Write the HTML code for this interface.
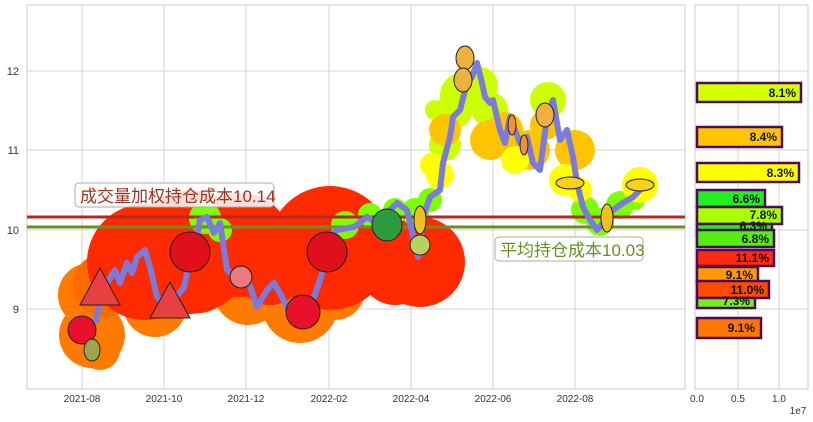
<!DOCTYPE html>
<html><head><meta charset="utf-8"><style>
html,body{margin:0;padding:0;background:#fff;}
svg{display:block;font-family:"Liberation Sans","Noto Sans CJK SC",sans-serif;}
</style></head><body>
<svg width="813" height="422" viewBox="0 0 813 422" xmlns="http://www.w3.org/2000/svg">
<defs>
<clipPath id="c1"><rect x="27" y="5" width="658" height="384"/></clipPath>
</defs>
<rect x="27" y="5" width="658" height="384" fill="#fff" stroke="#ccc"/>
<g stroke="#d3d3d3" stroke-width="1">
<line x1="82" y1="5" x2="82" y2="389"/><line x1="164" y1="5" x2="164" y2="389"/>
<line x1="246" y1="5" x2="246" y2="389"/><line x1="329" y1="5" x2="329" y2="389"/>
<line x1="411" y1="5" x2="411" y2="389"/><line x1="493" y1="5" x2="493" y2="389"/>
<line x1="575" y1="5" x2="575" y2="389"/>
<line x1="27" y1="71" x2="685" y2="71"/><line x1="27" y1="150" x2="685" y2="150"/>
<line x1="27" y1="230" x2="685" y2="230"/><line x1="27" y1="309" x2="685" y2="309"/>
</g>
<g clip-path="url(#c1)">
<g fill="#ff7b00">
<circle cx="92" cy="335" r="33"/><circle cx="90" cy="295" r="32"/><circle cx="155" cy="305" r="32"/>
<circle cx="248" cy="290" r="35"/><circle cx="300" cy="305" r="38"/><circle cx="335" cy="290" r="30"/>
<circle cx="100" cy="350" r="20"/>
</g>
<g fill="#ff6a00"><circle cx="105" cy="285" r="32"/><circle cx="200" cy="285" r="28"/></g>
<g fill="#ff2a00">
<circle cx="145" cy="262" r="58"/><circle cx="190" cy="252" r="62"/><circle cx="240" cy="245" r="52"/>
<circle cx="270" cy="270" r="35"/><circle cx="330" cy="248" r="62"/><circle cx="360" cy="250" r="42"/>
<circle cx="420" cy="262" r="45"/><circle cx="395" cy="270" r="35"/>
</g>
<g fill="#7dff00">
<circle cx="205" cy="218" r="16"/><circle cx="220" cy="230" r="12"/><circle cx="345" cy="225" r="14"/>
<circle cx="370" cy="215" r="12"/><circle cx="395" cy="210" r="12"/><circle cx="415" cy="212" r="14"/>
<circle cx="430" cy="200" r="12"/><circle cx="585" cy="210" r="14"/><circle cx="600" cy="222" r="14"/>
<circle cx="620" cy="205" r="14"/><circle cx="635" cy="200" r="10"/>
</g>
<g fill="#ccff00">
<circle cx="445" cy="145" r="16"/><circle cx="462" cy="95" r="22"/><circle cx="480" cy="85" r="18"/>
<circle cx="455" cy="110" r="18"/><circle cx="490" cy="110" r="18"/><circle cx="548" cy="100" r="18"/>
<circle cx="435" cy="110" r="10"/>
</g>
<g fill="#ffc400">
<circle cx="445" cy="130" r="16"/><circle cx="490" cy="140" r="20"/><circle cx="505" cy="130" r="18"/>
<circle cx="530" cy="150" r="20"/><circle cx="575" cy="150" r="20"/><circle cx="545" cy="125" r="15"/>
</g>
<g fill="#ffff00">
<circle cx="440" cy="175" r="14"/><circle cx="432" cy="165" r="12"/><circle cx="565" cy="180" r="16"/>
<circle cx="580" cy="190" r="12"/><circle cx="640" cy="185" r="18"/><circle cx="515" cy="160" r="14"/>
</g>
</g>
<line x1="27" y1="217" x2="685" y2="217" stroke="#b22a22" stroke-width="3"/>
<line x1="27" y1="227" x2="685" y2="227" stroke="#6b8e23" stroke-width="3"/>
<polyline fill="none" stroke="#7b7bdc" stroke-width="6" stroke-linejoin="round" points="95,323 99,307 107,283 115,270 120,283 127,263 132,273 137,257 145,250 150,267 157,297 164,303 174,300 184,287 187,273 194,253 200,220 207,217 214,233 220,223 227,270 240,280 249,283 257,307 267,290 274,283 280,293 290,313 300,307 314,297 320,280 324,267 327,240 337,230 354,227 367,217 377,223 387,213 397,203 407,210 418,257 423,217 430,197 440,190 443,163 450,137 453,117 460,110 467,83 472,77 477,63 482,83 485,97 490,103 493,100 500,130 505,143 510,117 520,143 527,137 533,163 540,170 547,117 553,100 560,140 567,130 573,157 577,183 583,207 590,220 597,230 603,223 613,210 623,203 633,197 647,183"/>
<g stroke="#222" stroke-width="1">
<circle cx="82" cy="330" r="14" fill="#e8102a"/><ellipse cx="92" cy="350" rx="8" ry="11" fill="#9aa84a"/>
<polygon points="100,268 80,305 120,305" fill="#e84040"/><polygon points="170,282 150,318 190,318" fill="#e84040"/>
<circle cx="190" cy="252" r="20" fill="#e0101a"/><circle cx="241" cy="277" r="11" fill="#e87a80"/>
<circle cx="303" cy="312" r="17" fill="#e8102a"/><circle cx="327" cy="252" r="20" fill="#e0101a"/>
<ellipse cx="387" cy="225" rx="15" ry="16" fill="#2e9a40"/><circle cx="420" cy="245" r="10" fill="#b8d060"/>
<ellipse cx="420" cy="220" rx="6" ry="14" fill="#f0c020"/>
<ellipse cx="465" cy="58" rx="9" ry="12" fill="#f0b040"/><ellipse cx="463" cy="80" rx="9" ry="12" fill="#f0b040"/>
<ellipse cx="545" cy="115" rx="9" ry="12" fill="#f0b040"/><ellipse cx="512" cy="125" rx="4" ry="10" fill="#f09030"/>
<ellipse cx="524" cy="145" rx="4" ry="10" fill="#f09030"/>
<ellipse cx="570" cy="183" rx="14" ry="6" fill="#f8d020"/><ellipse cx="640" cy="185" rx="14" ry="6" fill="#f8d020"/>
<ellipse cx="607" cy="218" rx="6" ry="14" fill="#f0c020"/>
</g>
<rect x="75" y="183" width="199" height="24" rx="4" fill="#fff" fill-opacity="0.85" stroke="#aaa"/>
<text x="80" y="202" font-size="17" fill="#9b3322">成交量加权持仓成本10.14</text>
<rect x="495" y="237" width="148" height="24" rx="4" fill="#fff" fill-opacity="0.85" stroke="#aaa"/>
<text x="500" y="256" font-size="17" fill="#6b8e23">平均持仓成本10.03</text>
<g font-size="11" fill="#333" text-anchor="end">
<text x="19" y="75">12</text><text x="19" y="154">11</text><text x="19" y="234">10</text><text x="19" y="313">9</text>
</g>
<g font-size="10" fill="#333" text-anchor="middle">
<text x="82" y="402">2021-08</text><text x="164" y="402">2021-10</text><text x="246" y="402">2021-12</text>
<text x="329" y="402">2022-02</text><text x="411" y="402">2022-04</text><text x="493" y="402">2022-06</text>
<text x="575" y="402">2022-08</text>
<text x="697" y="402">0.0</text><text x="738" y="402">0.5</text><text x="779" y="402">1.0</text>
<text x="798" y="414">1e7</text>
</g>
<rect x="695" y="5" width="113" height="384" fill="#fff" stroke="#ccc"/>
<g stroke="#d3d3d3"><line x1="738" y1="5" x2="738" y2="389"/><line x1="779" y1="5" x2="779" y2="389"/>
<line x1="695" y1="71" x2="808" y2="71"/><line x1="695" y1="150" x2="808" y2="150"/>
<line x1="695" y1="230" x2="808" y2="230"/><line x1="695" y1="309" x2="808" y2="309"/></g>
<g stroke="#4b0a5a" stroke-width="2.5">
<rect x="697" y="83" width="104" height="19" fill="#d4ff00"/>
<rect x="697" y="127" width="85" height="20" fill="#ffc400"/>
<rect x="697" y="163" width="102" height="19" fill="#ffff00"/>
<rect x="697" y="190" width="68" height="17" fill="#22ee22"/>
<rect x="697" y="207" width="85" height="17" fill="#aaff00"/>
<rect x="697" y="224" width="75" height="12" fill="#22ee22"/>
<rect x="697" y="230" width="77" height="17" fill="#55ee11"/>
<rect x="697" y="250" width="77" height="16" fill="#ff2a10"/>
<rect x="697" y="267" width="61" height="16" fill="#ff9a00"/>
<rect x="697" y="281" width="72" height="17" fill="#ff4a00"/>
<rect x="697" y="298" width="58" height="10" fill="#77ee22"/>
<rect x="697" y="318" width="64" height="20" fill="#ff7700"/>
</g>
<g font-size="12" font-weight="bold" fill="#111" text-anchor="end">
<text x="796" y="97">8.1%</text><text x="777" y="141">8.4%</text><text x="794" y="177">8.3%</text>
<text x="760" y="203">6.6%</text><text x="777" y="219">7.8%</text><text x="767" y="230">6.3%</text>
<text x="769" y="243">6.8%</text><text x="769" y="262">11.1%</text><text x="753" y="279">9.1%</text>
<text x="764" y="294">11.0%</text><text x="750" y="305">7.3%</text><text x="755" y="332">9.1%</text>
</g>
</svg>
</body></html>
